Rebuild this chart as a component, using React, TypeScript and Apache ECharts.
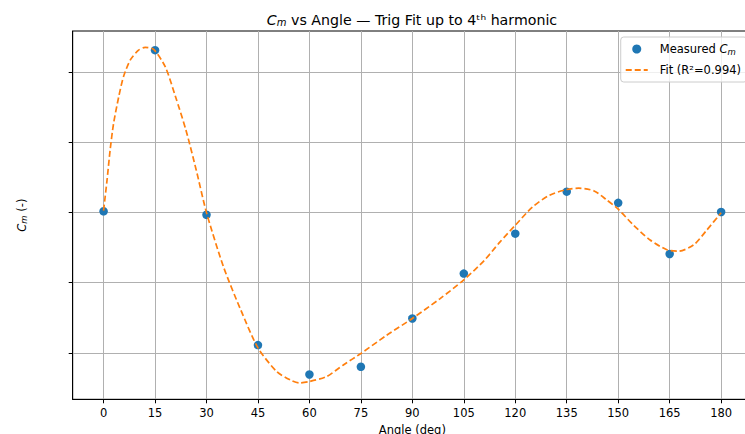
import React, { useEffect, useRef } from "react";
import * as echarts from "echarts";

const angles = [0, 15, 30, 45, 60, 75, 90, 105, 120, 135, 150, 165, 180];
const measuredCm = [0.002, 0.232, -0.003, -0.189, -0.231, -0.22, -0.151, -0.087, -0.03, 0.03, 0.014, -0.059, 0.001];

const fitAngles = [0, 1.0, 1.9, 2.9, 4.4, 5.8, 7.8, 10.2, 12.1, 14.6, 18, 21, 24, 27, 30, 35, 40, 45, 50.5, 54.5, 57, 60, 65, 70, 75, 82.5, 90, 98, 105, 111, 115.5, 120, 125, 130, 135, 138.5, 143, 146.7, 150, 154.5, 159.3, 164.2, 167.6, 172, 175.8, 180];
const fitCm = [0.003, 0.046, 0.089, 0.127, 0.165, 0.194, 0.218, 0.232, 0.236, 0.233, 0.208, 0.165, 0.118, 0.061, 0.0, -0.078, -0.139, -0.193, -0.227, -0.239, -0.243, -0.241, -0.234, -0.217, -0.201, -0.175, -0.151, -0.123, -0.096, -0.068, -0.042, -0.018, 0.008, 0.025, 0.033, 0.035, 0.031, 0.018, 0.005, -0.018, -0.039, -0.053, -0.055, -0.046, -0.025, 0.0];

const xTicks = [0, 15, 30, 45, 60, 75, 90, 105, 120, 135, 150, 165, 180];
const yTicks = [-0.2, -0.1, 0, 0.1, 0.2];

const FONT = "DejaVu Sans";

export default function App() {
  const ref = useRef<HTMLDivElement>(null);
  useEffect(() => {
    const chart = echarts.init(ref.current!, null, { renderer: "svg" });
    chart.setOption({
      animation: false,
      backgroundColor: "#ffffff",
      textStyle: { fontFamily: FONT },
      grid: {
        left: 72.7,
        right: 28,
        top: 31,
        bottom: 34.7,
        outerBoundsMode: "none",
        containLabel: false,
        show: true,
        borderColor: "#000",
        borderWidth: 1,
        backgroundColor: "transparent",
      },
      graphic: [
        {
          type: "text",
          x: 412,
          y: 19.5,
          style: {
            text: "{i|C}{s|m} vs Angle — Trig Fit up to 4ᵗʰ harmonic",
            align: "center",
            verticalAlign: "middle",
            fontFamily: FONT,
            fontSize: 14.2,
            fill: "#000",
            rich: {
              i: { fontStyle: "italic", fontSize: 14.2, fontFamily: FONT, fill: "#000" },
              s: { fontStyle: "italic", fontSize: 10, fontFamily: FONT, fill: "#000", verticalAlign: "bottom", padding: [6, 0, 0, 0] },
            },
          },
        },
      ],
      legend: {
        right: 33,
        top: 37,
        orient: "vertical",
        align: "left",
        backgroundColor: "rgba(255,255,255,0.8)",
        borderColor: "#cccccc",
        borderWidth: 1,
        borderRadius: 3,
        padding: [5, 6, 5, 4],
        itemGap: 7,
        itemWidth: 22,
        itemHeight: 9,
        textStyle: {
          fontFamily: FONT,
          fontSize: 11.5,
          lineHeight: 14,
          color: "#000",
          padding: [0, 0, 0, 7],
          rich: {
            i: { fontStyle: "italic", fontSize: 11.5, fontFamily: FONT, color: "#000" },
            s: { fontStyle: "italic", fontSize: 8.5, fontFamily: FONT, color: "#000", padding: [5, 0, 0, 0] },
          },
        },
        formatter: (name: string) =>
          name === "Measured Cm" ? "Measured {i|C}{s|m}" : name,
        data: [
          { name: "Measured Cm", icon: "circle" },
          { name: "Fit (R²=0.994)", itemStyle: { color: "transparent", opacity: 0, borderWidth: 0 } },
        ],
      },
      xAxis: {
        type: "value",
        min: -9,
        max: 189,
        name: "Angle (deg)",
        nameLocation: "middle",
        nameGap: 25,
        nameTextStyle: { fontFamily: FONT, fontSize: 11.5, color: "#000" },
        axisLine: { show: true, onZero: false, lineStyle: { color: "#000", width: 1 } },
        axisTick: { show: true, inside: false, length: 4, customValues: xTicks, lineStyle: { color: "#000" } },
        axisLabel: { show: true, customValues: xTicks, margin: 8, fontFamily: FONT, fontSize: 11.5, color: "#000" },
        splitLine: { show: true, lineStyle: { color: "#b0b0b0", width: 1 } },
      },
      yAxis: {
        type: "value",
        min: -0.2664,
        max: 0.2593,
        name: "{i|C}{s|m} (-)",
        nameLocation: "middle",
        nameGap: 44,
        nameRotate: 90,
        nameTextStyle: {
          fontFamily: FONT,
          fontSize: 11.5,
          color: "#000",
          rich: {
            i: { fontStyle: "italic", fontSize: 11.5, fontFamily: FONT, color: "#000" },
            s: { fontStyle: "italic", fontSize: 8.5, fontFamily: FONT, color: "#000", padding: [5, 0, 0, 0] },
          },
        },
        axisLine: { show: true, onZero: false, lineStyle: { color: "#000", width: 1 } },
        axisTick: { show: true, inside: false, length: 4, customValues: yTicks, lineStyle: { color: "#000" } },
        axisLabel: { show: false },
        splitLine: { show: true, lineStyle: { color: "#b0b0b0", width: 1 } },
      },
      series: [
        {
          name: "Measured Cm",
          type: "scatter",
          symbol: "circle",
          symbolSize: 8.5,
          itemStyle: { color: "#1f77b4", opacity: 1 },
          data: angles.map((a, i) => [a, measuredCm[i]]),
          z: 2,
        },
        {
          name: "Fit (R²=0.994)",
          type: "line",
          smooth: 0.25,
          showSymbol: false,
          symbol: "none",
          lineStyle: { color: "#ff7f0e", width: 1.7, type: [6, 3] },
          itemStyle: { color: "#ff7f0e" },
          data: fitAngles.map((a, i) => [a, fitCm[i]]),
          z: 3,
        },
      ],
    });
    return () => chart.dispose();
  }, []);
  return (
    <div style={{ position: "fixed", left: 0, top: 0, width: 745, height: 434, overflow: "hidden", background: "#fff" }}>
      <div ref={ref} style={{ width: 780, height: 434 }} />
    </div>
  );
}
